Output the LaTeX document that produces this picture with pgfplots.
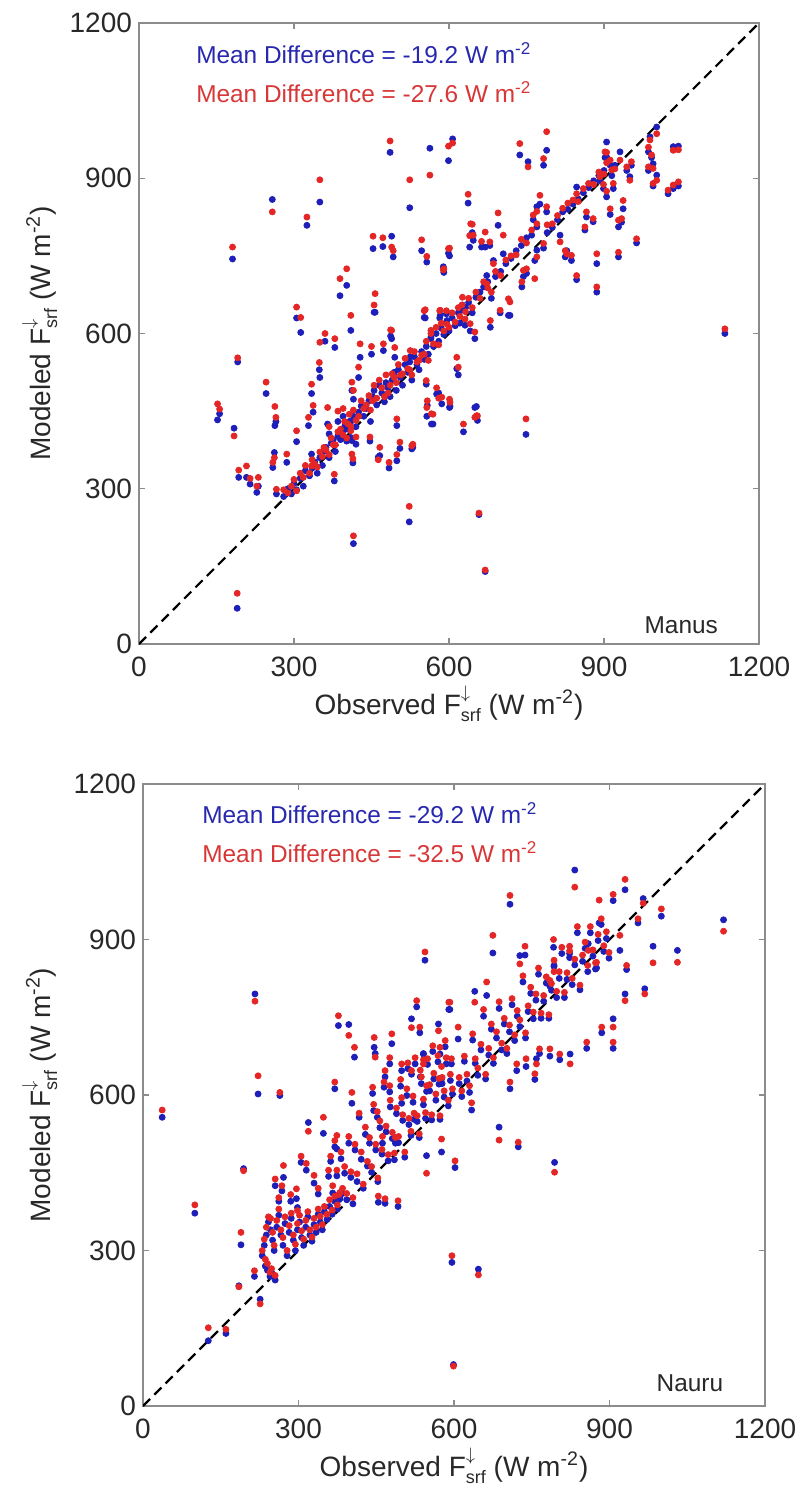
\documentclass[border=0pt]{standalone}
\usepackage{pgfplots}
\pgfplotsset{compat=1.18}
\usepackage{pgfplotstable}
\usepackage{fontspec}
\setmainfont{Liberation Sans}
\definecolor{mblue}{RGB}{30,30,185}
\definecolor{mred}{RGB}{228,38,38}
\definecolor{tblue}{RGB}{40,40,175}
\definecolor{tred}{RGB}{215,55,55}
\definecolor{axgray}{RGB}{140,140,140}
\definecolor{txgray}{RGB}{40,40,40}
\newcommand{\Fsrf}{F\raisebox{-3.5pt}{\fontsize{9}{9}\selectfont\shortstack[l]{$\downarrow$\\srf}}}

\pgfplotstableread{
x yb yr
190 69 98
152 433 464
156 445 454
184 417 402
191 545 553
181 744 767
258 859 835
325 809 825
350 854 897
486 950 972
524 843 897
563 958 906
599 934 962
607 976 968
637 852 869
453 764 788
472 768 785
489 788 767
492 748 760
547 760 781
557 738 749
601 750 765
590 718 725
640 767 789
645 795 811
670 767 796
389 673 706
402 693 725
457 641 677
305 630 651
313 602 631
410 606 635
489 590 606
552 631 644
582 630 644
595 638 644
626 655 670
246 484 506
263 422 459
265 430 438
193 322 336
208 322 344
215 309 320
231 305 322
228 293 305
266 290 299
259 341 351
262 370 360
286 351 367
305 391 412
328 422 438
337 448 461
334 484 502
350 515 583
349 530 544
360 585 600
379 573 590
365 425 457
368 406 420
334 367 344
415 473 490
407 430 444
378 315 328
499 354 366
466 364 380
499 422 435
530 380 386
557 440 457
569 425 444
601 457 473
628 410 425
650 457 438
576 483 495
455 641 655
554 630 646
583 635 645
487 595 607
718 635 661
621 620 633
650 590 603
680 612 625
631 616 628
615 532 554
618 520 535
525 555 567
412 490 506
447 392 400
505 378 390
528 377 383
463 361 356
484 340 351
412 393 367
414 350 358
558 461 470
580 485 475
566 425 445
602 459 467
653 459 441
655 432 441
749 405 435
523 236 266
658 250 253
415 194 209
670 140 143
1134 600 609
737 945 967
753 932 922
789 954 990
783 925 938
695 809 833
642 790 812
647 780 790
663 767 778
679 770 777
599 755 764
589 729 723
705 754 790
686 741 735
673 712 696
776 850 867
770 845 836
763 820 829
789 835 845
770 806 812
783 765 774
770 761 748
766 741 706
744 710 722
750 716 725
741 690 700
715 635 667
699 640 645
815 790 777
828 760 754
825 748 760
837 741 751
847 883 870
879 816 822
866 825 835
863 800 806
886 735 754
847 704 712
886 680 690
905 970 950
902 940 951
912 925 935
921 925 918
931 951 935
905 941 930
915 905 916
892 895 903
899 880 888
918 880 890
905 864 875
937 841 857
934 815 822
928 806 819
912 830 841
963 775 783
928 748 757
950 903 896
944 915 922
953 925 932
1002 999 986
989 980 974
986 951 960
992 940 945
995 928 919
986 915 922
1002 906 896
995 885 890
1034 961 954
1044 962 955
1034 880 887
1044 885 893
1024 870 877
428 554 580
450 560 575
473 567 580
495 554 573
425 515 535
556 502 509
565 593 606
586 464 477
641 605 619
385 430 450
395 440 455
410 399 412
420 386 400
280 285 298
288 300 292
295 290 305
300 310 318
305 298 296
312 320 330
318 305 322
322 335 345
330 325 330
335 340 356
340 352 348
345 330 342
350 360 371
355 345 362
358 372 380
362 380 375
368 360 366
372 388 398
376 395 385
380 372 385
385 402 410
390 395 415
395 410 404
398 420 430
402 392 398
405 415 425
410 430 420
415 440 452
420 420 432
425 448 440
430 460 470
435 440 455
440 455 462
445 470 480
448 430 452
452 478 470
455 490 500
460 462 475
465 500 510
470 485 495
475 468 478
478 505 520
482 495 485
486 478 500
490 510 522
494 525 515
498 490 505
502 530 540
506 515 520
510 500 522
515 540 552
520 525 532
524 545 530
528 510 520
533 555 565
538 540 545
542 530 548
547 565 558
552 550 560
556 575 585
560 560 548
565 590 600
570 575 580
575 600 612
580 585 578
585 610 620
590 598 605
596 625 618
600 605 612
606 630 640
612 615 622
618 640 650
625 645 655
632 650 642
638 660 668
645 640 650
652 670 680
660 680 668
667 690 700
675 700 688
682 668 680
690 710 720
700 720 712
710 735 742
720 745 750
730 760 752
740 770 782
750 785 775
760 790 800
790 795 810
800 805 812
810 820 828
820 835 842
830 840 852
840 850 858
850 860 855
860 872 880
870 882 890
880 895 888
890 905 912
900 915 908
}\manus

\pgfplotstableread{
x yb yr
37 557 571
100 372 388
126 126 151
160 140 148
185 232 230
189 311 335
194 458 454
215 250 261
216 795 781
222 602 637
226 206 197
264 599 605
596 277 290
599 80 77
647 264 253
687 538 513
724 500 509
794 470 451
1120 938 916
1031 879 856
984 887 855
968 805 795
930 795 782
833 1034 1001
930 996 1016
708 968 985
965 979 970
544 860 876
880 932 976
907 975 987
1000 945 959
955 932 940
675 874 908
792 885 900
737 870 887
727 869 853
823 873 887
859 892 879
875 845 856
920 879 908
933 842 850
663 792 818
640 800 779
793 850 838
785 810 821
592 765 779
907 747 731
885 720 731
907 690 702
856 690 702
824 679 660
765 680 689
785 675 689
804 668 679
759 670 660
756 630 641
721 647 660
708 612 625
739 655 670
634 571 585
576 490 515
547 483 449
602 460 473
492 385 396
467 391 400
454 393 405
377 734 753
397 736 715
446 692 711
480 699 718
408 673 692
518 747 730
534 720 731
570 737 724
541 679 660
573 679 692
608 708 731
370 612 625
403 584 605
528 770 782
590 765 779
319 547 530
348 526 557
374 496 522
448 680 673
476 660 672
499 647 660
467 635 647
518 640 647
541 680 668
576 631 655
236 270 283
240 262 275
245 250 258
248 258 265
255 243 252
230 290 300
234 310 322
238 330 345
242 355 365
246 340 362
250 320 335
253 300 310
258 345 358
262 368 380
266 330 340
270 310 325
274 352 365
278 290 300
282 335 348
286 362 372
290 320 330
294 300 312
298 340 352
302 355 368
306 325 338
310 310 322
314 345 358
318 365 375
322 330 340
326 318 326
330 350 362
334 335 345
338 370 380
342 355 366
346 340 350
350 375 385
355 360 370
360 385 398
365 370 378
370 395 405
375 380 388
380 400 412
271 441 464
255 425 438
268 415 425
296 400 419
298 383 377
338 409 420
330 430 445
315 455 468
305 470 482
285 395 408
262 395 402
385 410 420
389 449 462
393 398 410
397 507 520
401 441 452
405 390 402
409 494 505
413 433 448
417 557 565
421 476 490
425 420 428
429 524 538
433 463 472
437 507 518
441 451 462
445 570 582
449 494 505
453 433 440
457 537 550
461 486 495
465 615 625
469 529 540
473 473 485
477 577 590
481 516 528
485 475 488
489 564 575
493 508 520
497 617 630
501 551 562
505 480 490
509 599 612
513 543 555
517 522 530
521 586 598
525 660 672
529 549 560
533 518 525
537 622 635
541 581 592
545 555 566
549 659 670
553 608 620
557 552 562
561 631 642
565 590 602
569 664 676
573 553 560
577 622 634
581 596 608
585 660 672
589 579 590
593 628 640
597 602 612
358 443 455
362 472 482
366 411 425
370 500 512
374 444 455
378 398 408
382 477 490
443 603 615
452 557 568
462 507 520
476 606 618
487 507 518
499 584 595
511 651 662
523 553 565
535 635 648
547 607 618
559 684 695
571 621 632
583 693 705
595 660 670
610 622 634
615 597 608
620 665 675
625 627 640
630 605 618
636 706 718
641 661 670
646 638 652
652 687 698
657 752 765
661 631 640
667 677 690
672 727 737
676 661 672
682 710 722
687 767 780
692 687 700
697 737 748
702 680 690
707 722 735
712 774 786
717 705 716
722 752 763
727 732 745
733 818 830
738 710 720
743 761 772
748 796 808
753 747 760
758 783 795
763 833 845
768 748 758
773 781 792
778 816 828
783 748 755
788 802 815
793 848 860
798 788 800
803 825 838
808 873 885
813 788 798
818 823 836
823 865 878
828 813 825
833 851 862
838 913 925
843 803 812
848 858 870
853 883 895
858 838 850
863 913 925
868 868 880
873 843 855
878 898 910
884 929 940
889 877 888
894 902 915
899 864 875
}\nauru

\pgfplotsset{scat/.style={
  scale only axis, xmin=0, xmax=1200, ymin=0, ymax=1200,
  xtick={0,300,600,900,1200}, ytick={0,300,600,900,1200},
  tick align=inside, major tick length=3pt,
  axis line style={axgray, line width=0.8pt},
  every tick/.style={axgray, line width=0.6pt},
  /pgf/number format/1000 sep={}, /pgf/number format/assume math mode=true,
  ticklabel style={font=\fontsize{14}{16}\selectfont, text=txgray},
  xticklabel style={yshift=-3pt},
  label style={font=\fontsize{14}{16}\selectfont, text=txgray},
  xlabel={Observed \Fsrf\ (W m\textsuperscript{-2})},
  ylabel={Modeled \Fsrf\ (W m\textsuperscript{-2})},
  xlabel style={at={(axis description cs:0.5,0)}, anchor=base, yshift=-35pt},
  bl/.style={only marks, mark=*, mark size=1.5pt, color=mblue},
  rd/.style={only marks, mark=*, mark size=1.5pt, color=mred},
}}

\begin{document}
\begin{tikzpicture}
\useasboundingbox (0,0) rectangle (400pt,-745.5pt);
\begin{axis}[scat, at={(69.5pt,-322pt)}, anchor=south west, width=310pt, height=310.5pt,
  ylabel style={at={(axis description cs:-0.16,0.5)}, anchor=center}]
\addplot[bl] table[x=x, y=yb] {\manus};
\addplot[rd] table[x=x, y=yr] {\manus};
\addplot[black, line width=1.1pt, dash pattern=on 5pt off 3pt] coordinates {(0,0) (1200,1200)};
\node[anchor=west, text=tblue, font=\fontsize{12.2}{14}\selectfont] at (axis description cs:0.081,0.952) {Mean Difference = -19.2 W m\textsuperscript{-2}};
\node[anchor=west, text=tred, font=\fontsize{12.2}{14}\selectfont] at (axis description cs:0.081,0.889) {Mean Difference = -27.6 W m\textsuperscript{-2}};
\node[anchor=east, text=txgray, font=\fontsize{12.2}{14}\selectfont] at (axis description cs:0.945,0.03) {Manus};
\end{axis}
\begin{axis}[scat, at={(71.5pt,-703pt)}, anchor=south west, width=311pt, height=311pt,
  ylabel style={at={(axis description cs:-0.166,0.5)}, anchor=center}]
\addplot[bl] table[x=x, y=yb] {\nauru};
\addplot[rd] table[x=x, y=yr] {\nauru};
\addplot[black, line width=1.1pt, dash pattern=on 5pt off 3pt] coordinates {(0,0) (1200,1200)};
\node[anchor=west, text=tblue, font=\fontsize{12.2}{14}\selectfont] at (axis description cs:0.084,0.953) {Mean Difference = -29.2 W m\textsuperscript{-2}};
\node[anchor=west, text=tred, font=\fontsize{12.2}{14}\selectfont] at (axis description cs:0.084,0.891) {Mean Difference = -32.5 W m\textsuperscript{-2}};
\node[anchor=east, text=txgray, font=\fontsize{12.2}{14}\selectfont] at (axis description cs:0.944,0.037) {Nauru};
\end{axis}
\end{tikzpicture}
\end{document}
